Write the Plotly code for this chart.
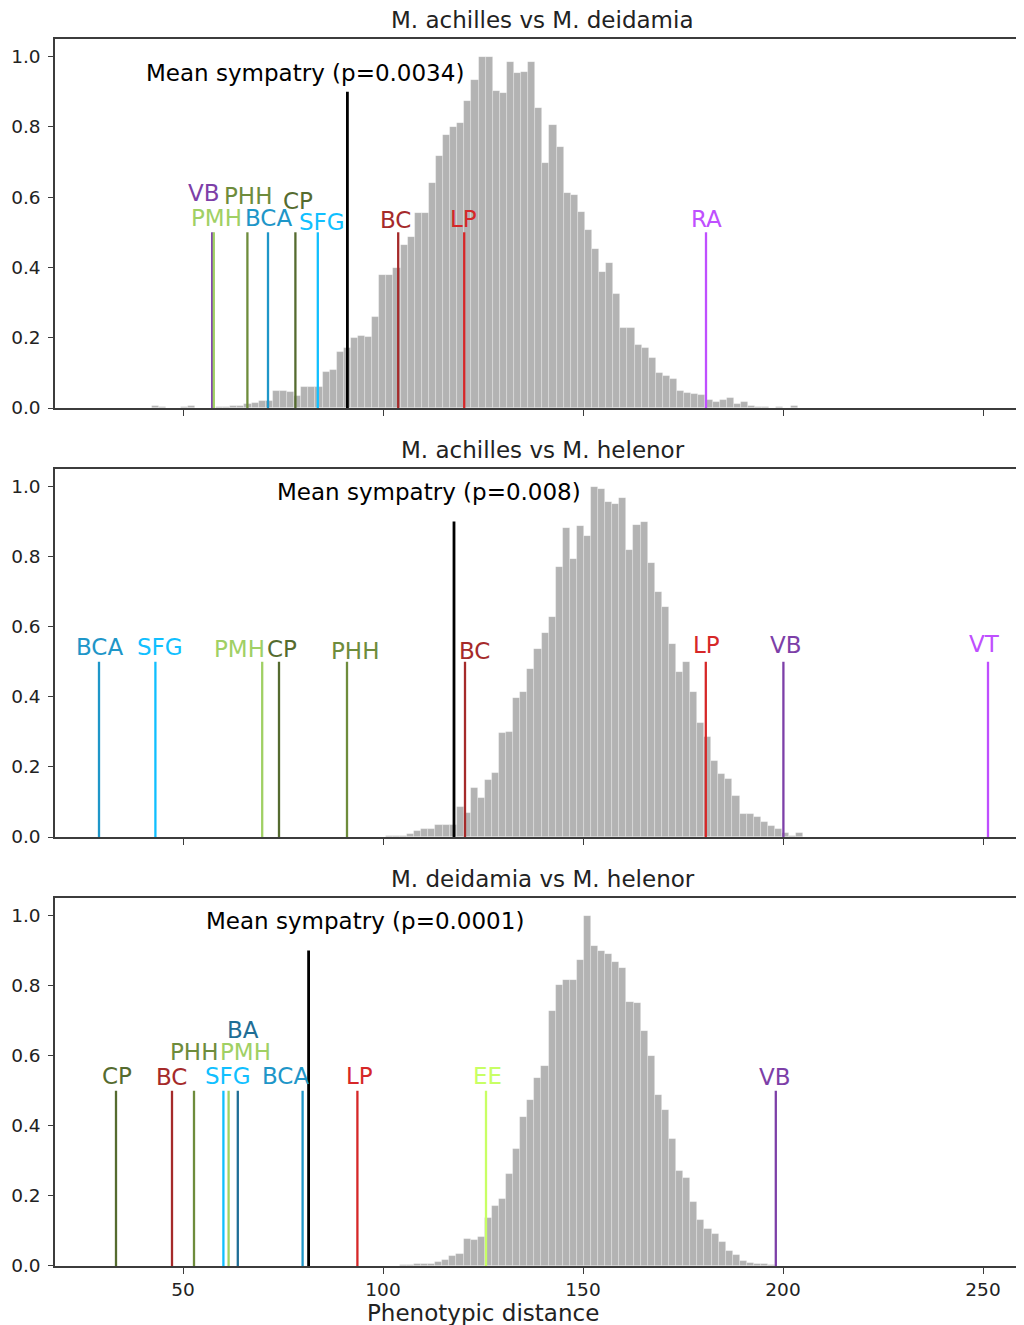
import numpy as np
import plotly.graph_objects as go
from plotly.subplots import make_subplots

# ---------------- data ----------------
titles = ["M. achilles vs M. deidamia", "M. achilles vs M. helenor", "M. deidamia vs M. helenor"]
p_values = ["0.0034", "0.008", "0.0001"]
mean_sympatry = [91.1, 117.75, 81.4]

# normalised null-distribution histograms (bin start, bin width, heights)
p1_bin_start = 40.55
p1_bin_width = 1.773
p1_heights = [0, 0.005, 0.002, 0, 0, 0.002, 0.006, 0, 0.001, 0.001, 0.002, 0.003, 0.005,
              0.006, 0.01, 0.015, 0.02, 0.02, 0.049, 0.049, 0.046, 0.034, 0.059, 0.059, 0.06,
              0.103, 0.108, 0.16, 0.17, 0.20, 0.205, 0.203, 0.26, 0.379, 0.379, 0.398, 0.464,
              0.488, 0.555, 0.555, 0.64, 0.716, 0.778, 0.80, 0.81, 0.873, 0.934, 1.0, 1.0,
              0.901, 0.897, 0.984, 0.953, 0.957, 0.984, 0.854, 0.697, 0.806, 0.744, 0.612,
              0.607, 0.559, 0.507, 0.452, 0.388, 0.412, 0.325, 0.227, 0.227, 0.18, 0.17,
              0.142, 0.099, 0.09, 0.083, 0.049, 0.044, 0.04, 0.037, 0.023, 0.017, 0.023,
              0.028, 0.01, 0.016, 0.005, 0.003, 0.002, 0.001, 0.002, 0.001, 0.006]

p2_bin_start = 97.2
p2_bin_width = 1.768
p2_heights = [0.001, 0.001, 0.002, 0.003, 0.004, 0.01, 0.018, 0.022, 0.022, 0.034, 0.034,
              0.034, 0.085, 0.068, 0.139, 0.11, 0.163, 0.184, 0.298, 0.30, 0.396, 0.415,
              0.48, 0.537, 0.582, 0.629, 0.77, 0.882, 0.793, 0.887, 0.86, 1.0, 0.993, 0.955,
              0.951, 0.968, 0.82, 0.891, 0.898, 0.782, 0.70, 0.656, 0.551, 0.472, 0.498,
              0.415, 0.325, 0.284, 0.218, 0.18, 0.165, 0.117, 0.066, 0.067, 0.058, 0.044,
              0.03, 0.023, 0.012, 0.004, 0.012]

p3_bin_start = 104.2
p3_bin_width = 1.771
p3_heights = [0.002, 0.003, 0.005, 0.005, 0.007, 0.012, 0.017, 0.029, 0.033, 0.076, 0.074,
              0.084, 0.136, 0.17, 0.191, 0.263, 0.335, 0.425, 0.474, 0.536, 0.572, 0.727,
              0.803, 0.817, 0.815, 0.874, 1.0, 0.914, 0.898, 0.89, 0.867, 0.851, 0.752,
              0.75, 0.671, 0.60, 0.489, 0.446, 0.362, 0.272, 0.25, 0.184, 0.131, 0.105,
              0.091, 0.069, 0.042, 0.03, 0.015, 0.009, 0.005, 0.005, 0.003, 0.001]

# observed population-pair distances
p1_sites = ["VB", "PMH", "PHH", "BCA", "CP", "SFG", "BC", "LP", "RA"]
p1_dist = [57.3, 57.7, 66.1, 71.25, 78.1, 83.7, 103.8, 120.3, 180.75]
p2_sites = ["BCA", "SFG", "PMH", "CP", "PHH", "BC", "LP", "VB", "VT"]
p2_dist = [29.0, 43.1, 69.8, 74.0, 91.0, 120.5, 180.7, 200.1, 251.25]
p3_sites = ["CP", "BC", "PHH", "SFG", "PMH", "BA", "BCA", "LP", "EE", "VB"]
p3_dist = [33.25, 47.25, 52.75, 60.1, 61.4, 63.7, 79.9, 93.6, 125.75, 198.2]

x_ticks = [50, 100, 150, 200, 250]
y_ticks = [0.0, 0.2, 0.4, 0.6, 0.8, 1.0]
x_label = "Phenotypic distance"

# ---------------- styles / layout positions ----------------
site_colors = {"VB": "#7d3fa8", "PMH": "#a0d064", "PHH": "#6e8c3c", "CP": "#556b2f",
               "BCA": "#1e96c8", "SFG": "#10bfff", "BC": "#a52a2a", "LP": "#d62728",
               "RA": "#bf4fff", "VT": "#bf4fff", "EE": "#c8ff64", "BA": "#1f6e96"}
HIST_COLOR = "#b3b3b3"
LINE_TOP = 0.5
MEAN_TOP = 0.9
FONT = "DejaVu Sans"
TXT = 23

label_pos = [
    [(55.25, 0.612), (58.4, 0.540), (66.25, 0.604), (71.3, 0.540), (78.7, 0.590),
     (84.7, 0.530), (103.2, 0.535), (120.1, 0.537), (180.9, 0.537)],
    [(29.0, 0.542), (44.25, 0.543), (64.1, 0.536), (74.7, 0.537), (93.0, 0.532),
     (122.75, 0.532), (180.75, 0.547), (200.75, 0.547), (250.25, 0.55)],
    [(33.6, 0.543), (47.0, 0.54), (52.8, 0.612), (61.3, 0.543), (65.6, 0.612),
     (65.1, 0.672), (75.7, 0.542), (94.2, 0.542), (126.1, 0.541), (198.0, 0.54)],
]
mean_label_pos = [(80.6, 0.954), (111.5, 0.983), (95.5, 0.983)]

panels = [
    (p1_bin_start, p1_bin_width, p1_heights, p1_sites, p1_dist),
    (p2_bin_start, p2_bin_width, p2_heights, p2_sites, p2_dist),
    (p3_bin_start, p3_bin_width, p3_heights, p3_sites, p3_dist),
]

fig = make_subplots(rows=3, cols=1, shared_xaxes=True, vertical_spacing=0.05)
annotations = []
for i, (start, width, heights, sites, dist) in enumerate(panels):
    r = i + 1
    sfx = "" if r == 1 else str(r)
    centers = start + width * (np.arange(len(heights)) + 0.5)
    fig.add_trace(go.Bar(x=centers, y=heights, width=width,
                         marker=dict(color=HIST_COLOR,
                                     line=dict(color="rgba(255,255,255,0.35)", width=0.7)),
                         hoverinfo="skip", showlegend=False), row=r, col=1)
    for s, d, (lx, ly) in zip(sites, dist, label_pos[i]):
        fig.add_trace(go.Scatter(x=[d, d], y=[0, LINE_TOP], mode="lines",
                                 line=dict(color=site_colors[s], width=2.3),
                                 showlegend=False, hoverinfo="skip"), row=r, col=1)
        annotations.append(dict(x=lx, y=ly, xref="x" + sfx, yref="y" + sfx, text=s,
                                showarrow=False, xanchor="center", yanchor="middle",
                                borderpad=0,
                                font=dict(family=FONT, size=TXT, color=site_colors[s])))
    m = mean_sympatry[i]
    fig.add_trace(go.Scatter(x=[m, m], y=[0, MEAN_TOP], mode="lines",
                             line=dict(color="black", width=2.8),
                             showlegend=False, hoverinfo="skip"), row=r, col=1)
    mx, my = mean_label_pos[i]
    annotations.append(dict(x=mx, y=my, xref="x" + sfx, yref="y" + sfx,
                            text=f"Mean sympatry (p={p_values[i]})", showarrow=False,
                            xanchor="center", yanchor="middle",
                            font=dict(family=FONT, size=TXT, color="black")))
    annotations.append(dict(x=0.5036, y=1, xref=f"x{sfx} domain", yref=f"y{sfx} domain",
                            text=titles[i], showarrow=False, xanchor="center",
                            yanchor="bottom", yshift=4,
                            font=dict(family=FONT, size=TXT, color="#222")))

annotations.append(dict(x=0.4417, y=0, xref="paper", yref="paper", text=x_label,
                        showarrow=False, xanchor="center", yanchor="middle", yshift=-47,
                        font=dict(family=FONT, size=TXT, color="#222")))

domains = [[0.69927, 1.0], [0.34963, 0.64955], [0.0, 0.29992]]
AX = "#3c3c3c"
for i in range(3):
    r = i + 1
    fig.update_yaxes(domain=domains[i], range=[0, 1.05], tickvals=y_ticks, tickformat=".1f",
                     ticks="outside", ticklen=5, tickcolor=AX, showline=True, linecolor=AX,
                     linewidth=1.5, mirror=False, showgrid=False, zeroline=False,
                     automargin=False, ticklabelstandoff=4,
                     tickfont=dict(family=FONT, size=18.5, color="#222"), row=r, col=1)
    fig.update_xaxes(range=[18, 260.25], tickvals=x_ticks, ticks="outside", ticklen=6,
                     tickcolor=AX, showline=True, linecolor=AX, linewidth=1.5, mirror=True,
                     showgrid=False, zeroline=False, automargin=False,
                     showticklabels=(r == 3),
                     tickfont=dict(family=FONT, size=18.5, color="#222"), row=r, col=1)

# the page body adds an 8 px margin, so the figure is sized/offset to compensate
fig.update_layout(width=1016, height=1317, margin=dict(l=47, r=0, t=31, b=59),
                  plot_bgcolor="white", paper_bgcolor="white", bargap=0,
                  font=dict(family=FONT, size=18, color="#222"), showlegend=False,
                  annotations=annotations)

fig.write_html("out.html")
